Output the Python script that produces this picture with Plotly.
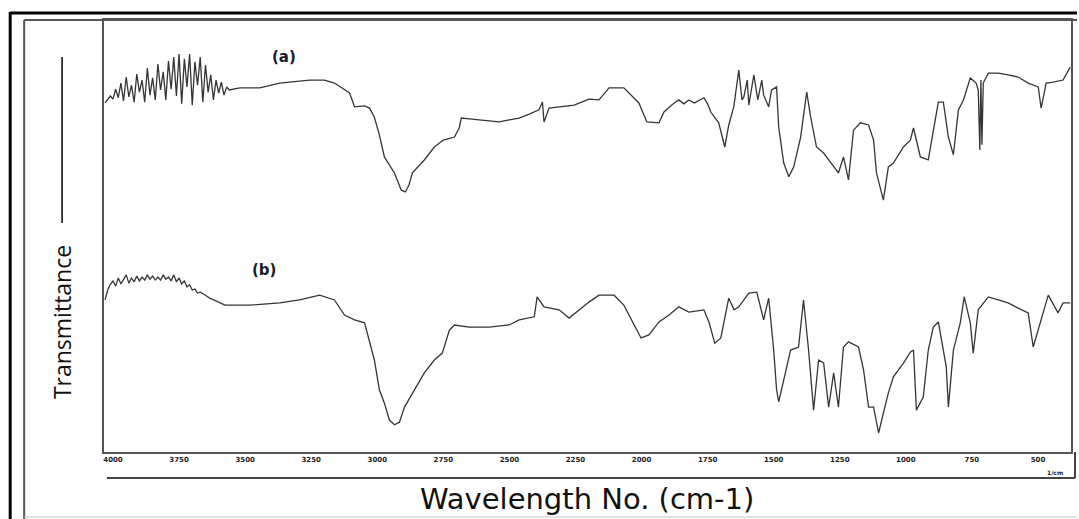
import plotly.graph_objects as go

# FTIR spectra: wavenumber (cm-1) and transmittance (arbitrary units, stacked)
wn_a = [4030, 4020, 4010, 4000, 3990, 3980, 3970, 3960, 3950, 3940, 3930, 3920,
        3910, 3900, 3890, 3880, 3870, 3860, 3850, 3840, 3830, 3820, 3810, 3800,
        3790, 3780, 3770, 3760, 3750, 3740, 3730, 3720, 3710, 3700, 3690, 3680,
        3670, 3660, 3650, 3640, 3630, 3620, 3610, 3600, 3590, 3580, 3570, 3560,
        3520, 3483, 3445, 3369, 3294, 3256, 3200, 3162, 3105, 3086, 3048, 3029,
        3011, 2992, 2973, 2954, 2935, 2909, 2894, 2880, 2867, 2822, 2784, 2750,
        2708, 2690, 2682, 2652, 2614, 2576, 2539, 2501, 2463, 2425, 2388, 2375,
        2369, 2350, 2312, 2255, 2199, 2161, 2123, 2067, 2010, 1980, 1934, 1915,
        1880, 1859, 1840, 1821, 1800, 1764, 1750, 1738, 1708, 1685, 1670, 1651,
        1632, 1620, 1613, 1600, 1594, 1575, 1560, 1545, 1538, 1519, 1508, 1489,
        1481, 1462, 1443, 1424, 1398, 1375, 1360, 1338, 1311, 1292, 1273, 1255,
        1236, 1217, 1198, 1172, 1141, 1122, 1111, 1085, 1066, 1047, 1009, 983,
        971, 945, 915, 877, 858, 839, 820, 801, 782, 756, 734, 726, 720, 716,
        712, 707, 688, 650, 613, 575, 537, 499, 488, 469, 442, 405, 378]
t_a = [80.8, 81.5, 82.4, 81.7, 84.0, 82.0, 85.4, 81.3, 86.8, 82.2, 84.9, 81.0,
       87.5, 83.3, 86.1, 81.0, 88.9, 82.6, 86.6, 81.5, 89.8, 83.8, 88.0, 81.5,
       90.5, 84.0, 91.4, 82.4, 92.1, 80.6, 91.0, 84.5, 92.1, 80.3, 90.3, 84.9,
       91.4, 81.0, 89.6, 83.3, 87.3, 81.5, 86.1, 83.1, 85.6, 82.6, 84.5, 83.8,
       84.3, 84.3, 84.3, 85.4, 85.9, 86.1, 86.1, 85.4, 83.1, 79.9, 80.1, 79.6,
       77.5, 73.4, 68.3, 66.4, 64.6, 60.6, 60.2, 61.8, 64.6, 67.6, 70.6, 72.2,
       72.9, 75.0, 77.3, 77.1, 76.9, 76.6, 76.4, 76.9, 77.3, 78.2, 79.2, 81.0,
       76.4, 79.6, 79.9, 80.3, 81.7, 81.5, 84.3, 84.3, 80.8, 76.4, 76.2, 78.7,
       80.6, 81.5, 80.6, 81.5, 80.8, 82.0, 80.6, 78.7, 76.2, 70.6, 75.7, 79.9,
       88.4, 81.5, 82.2, 86.1, 80.3, 87.3, 81.5, 86.1, 82.6, 79.9, 83.8, 84.5,
       75.2, 66.9, 63.7, 66.0, 72.9, 83.3, 77.5, 70.6, 69.2, 67.6, 66.0, 64.6,
       68.3, 63.0, 74.5, 76.2, 75.7, 72.2, 64.6, 58.3, 66.0, 66.9, 70.6, 72.2,
       75.0, 68.3, 67.6, 81.0, 81.0, 72.9, 68.8, 79.2, 81.5, 86.6, 85.4, 83.8,
       69.9, 86.1, 71.1, 85.4, 87.7, 87.7, 87.3, 86.8, 85.4, 84.5, 79.6, 85.4,
       85.6, 86.1, 89.1]

wn_b = [4030, 4020, 4011, 4000, 3990, 3980, 3970, 3960, 3950, 3940, 3930, 3920,
        3910, 3900, 3890, 3880, 3870, 3860, 3850, 3840, 3830, 3820, 3810, 3800,
        3790, 3780, 3770, 3760, 3750, 3740, 3730, 3720, 3710, 3700, 3690, 3680,
        3670, 3650, 3634, 3600, 3577, 3483, 3369, 3294, 3218, 3162, 3124, 3086,
        3048, 3011, 2992, 2973, 2954, 2935, 2916, 2897, 2860, 2822, 2784, 2754,
        2727, 2708, 2652, 2576, 2501, 2463, 2406, 2395, 2369, 2312, 2274, 2236,
        2199, 2161, 2104, 2067, 2029, 2002, 1972, 1934, 1896, 1859, 1821, 1764,
        1745, 1723, 1700, 1670, 1650, 1632, 1594, 1564, 1538, 1519, 1500, 1489,
        1481, 1462, 1436, 1406, 1387, 1368, 1349, 1330, 1311, 1292, 1273, 1255,
        1236, 1217, 1179, 1160, 1141, 1122, 1103, 1085, 1066, 1047, 1009, 983,
        971, 960, 934, 915, 896, 877, 847, 839, 820, 794, 779, 756, 745, 726,
        688, 650, 613, 575, 537, 518, 499, 461, 424, 405, 378]
t_b = [35.2, 37.5, 38.7, 39.6, 38.4, 40.3, 38.9, 39.8, 41.0, 39.1, 40.3, 39.4,
       40.7, 39.6, 40.5, 39.8, 41.0, 40.0, 40.7, 39.8, 40.5, 39.8, 41.0, 40.0,
       40.5, 39.6, 41.0, 39.4, 40.3, 38.9, 39.6, 38.2, 38.7, 37.5, 37.7, 36.8,
       37.0, 36.3, 35.6, 34.7, 34.0, 34.0, 34.5, 35.2, 36.3, 35.2, 31.7, 30.6,
       29.9, 21.3, 14.4, 11.3, 7.4, 6.3, 6.9, 10.4, 14.4, 18.3, 21.3, 22.9,
       28.2, 29.4, 28.9, 28.9, 29.4, 30.6, 31.3, 35.9, 33.6, 32.9, 31.0, 32.9,
       34.7, 36.3, 36.3, 34.0, 29.4, 26.4, 27.1, 30.1, 31.7, 33.6, 32.4, 32.9,
       30.1, 25.2, 26.4, 35.6, 32.9, 33.6, 36.8, 37.0, 30.6, 35.6, 23.6, 14.4,
       11.6, 16.7, 23.6, 24.3, 35.2, 23.6, 9.7, 21.3, 20.6, 10.4, 18.3, 10.4,
       24.3, 25.5, 24.3, 19.0, 10.4, 10.4, 4.4, 9.0, 13.7, 17.4, 20.6, 23.1,
       23.6, 9.7, 12.7, 23.6, 28.9, 30.1, 19.7, 10.4, 23.6, 29.9, 35.9, 29.9,
       22.9, 32.9, 35.9, 35.2, 34.5, 33.3, 32.2, 24.3, 28.2, 36.3, 32.2, 34.5,
       34.5]

tick_vals = [4000, 3750, 3500, 3250, 3000, 2750, 2500, 2250, 2000, 1750, 1500,
             1250, 1000, 750, 500]
tick_text = [str(v) for v in tick_vals]

# plot area in pixels (figure is 1079 x 519)
W, H = 1079, 519
L, R, T, B = 104, 1073, 20, 452


def px(x):
    return (x - L) / (R - L)


def py(y):
    return (B - y) / (B - T)


def seg(x0, y0, x1, y1, color, width):
    return dict(type="line", xref="paper", yref="paper",
                x0=px(x0), y0=py(y0), x1=px(x1), y1=py(y1),
                line=dict(color=color, width=width), layer="above")


def label(x, y, text, **kw):
    return dict(xref="paper", yref="paper", x=px(x), y=py(y), text=text,
                showarrow=False, xanchor="center", yanchor="middle", **kw)


line_style = dict(color="#353535", width=1.3)

fig = go.Figure()
fig.add_trace(go.Scatter(x=wn_a, y=t_a, mode="lines", line=line_style,
                         name="(a)", showlegend=False))
fig.add_trace(go.Scatter(x=wn_b, y=t_b, mode="lines", line=line_style,
                         name="(b)", showlegend=False))

fig.update_xaxes(range=[4034, 375], tickvals=tick_vals, ticktext=tick_text,
                 showgrid=False, zeroline=False, ticks="",
                 tickfont=dict(family="DejaVu Sans", size=7, color="#222",
                               weight="bold"),
                 showline=True, linecolor="#555", linewidth=2, mirror=True)
fig.update_yaxes(range=[0, 100], showticklabels=False, showgrid=False,
                 zeroline=False, ticks="",
                 showline=True, linecolor="#555", linewidth=2, mirror=True)

shapes = [
    # outer black frame
    seg(10, 12, 10, 519, "black", 3),
    seg(10, 13, 1079, 13, "black", 3),
    # inner grey frame
    seg(24, 20, 24, 519, "#555", 2),
    seg(24, 20, 1079, 20, "#555", 2),
    seg(24, 517, 1079, 517, "#c8c8c8", 1),
    # tick-label box
    seg(107, 478, 1077, 478, "#444", 2),
    seg(1077, 452, 1077, 478, "#444", 2),
    # axis-title arrow line
    seg(62, 57, 62, 223, "black", 1.5),
]

annotations = [
    label(284, 57, "<b>(a)</b>",
          font=dict(family="DejaVu Sans", size=15, color="#1a1a2a")),
    label(264, 270, "<b>(b)</b>",
          font=dict(family="DejaVu Sans", size=15, color="#1a1a2a")),
    label(62, 322, "Transmittance", textangle=-90,
          font=dict(family="Open Sans", size=23, color="#111")),
    label(588, 499, "Wavelength No. (cm-1)",
          font=dict(family="DejaVu Sans", size=29, color="#111")),
    label(1057, 472, "<b>1/cm</b>",
          font=dict(family="DejaVu Sans", size=6, color="#222")),
]

fig.update_layout(
    width=W, height=H,
    margin=dict(l=L, r=W - R, t=T, b=H - B),
    paper_bgcolor="white", plot_bgcolor="white",
    shapes=shapes, annotations=annotations,
)

fig.write_html("out.html")
